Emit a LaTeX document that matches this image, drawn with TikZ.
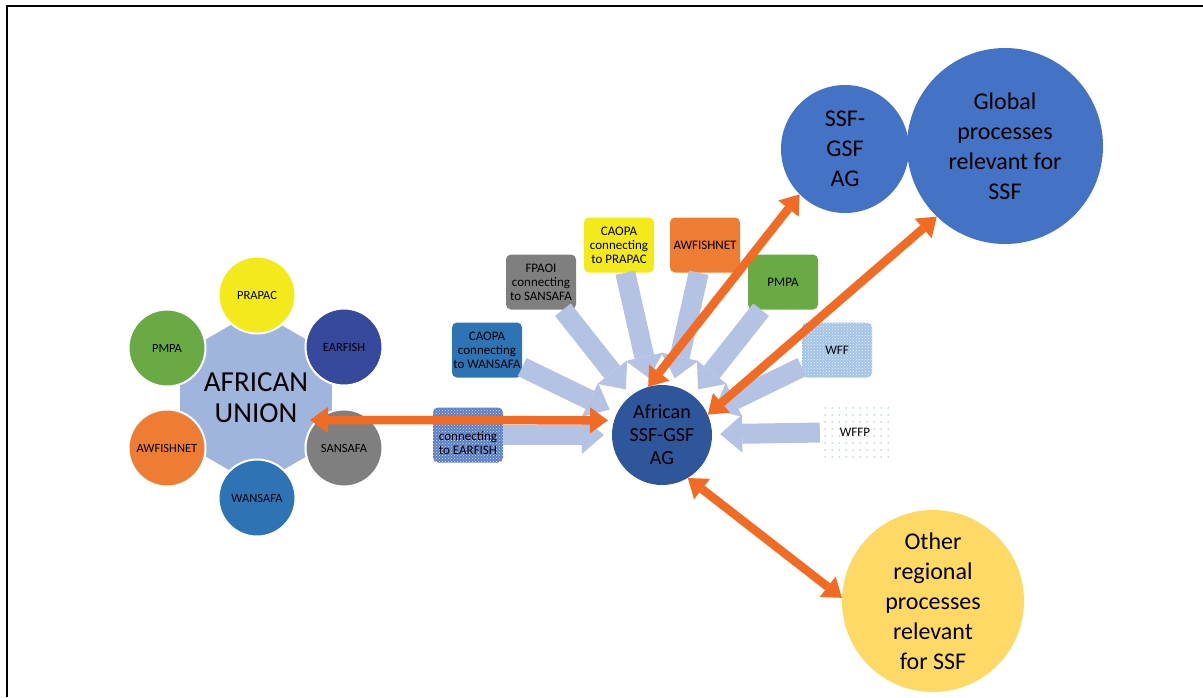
\documentclass[tikz,border=0pt]{standalone}
\usepackage{fontspec}
\setmainfont{Carlito}
\usetikzlibrary{arrows.meta,shapes.geometric,patterns,patterns.meta,calc}
\definecolor{UnionBlue}{HTML}{A0B5DE}
\definecolor{FeedBlue}{HTML}{B4C2E3}
\definecolor{LinkOrange}{HTML}{F26B24}
\definecolor{HubBlue}{HTML}{2F559B}
\definecolor{GlobalBlue}{HTML}{4472C4}
\definecolor{OtherGold}{HTML}{FFD966}
\definecolor{PrapacYellow}{HTML}{F4EA1B}
\definecolor{EarfishBlue}{HTML}{36499C}
\definecolor{PmpaGreen}{HTML}{6AAA45}
\definecolor{AwfOrange}{HTML}{EE7D33}
\definecolor{SansafaGray}{HTML}{7F7F7F}
\definecolor{WansafaBlue}{HTML}{2E74B5}
\definecolor{WffBlue}{HTML}{A3C4E6}
\definecolor{WffpDot}{HTML}{8DB8E2}
\definecolor{EarBoxBlue}{HTML}{5B7FC4}

\begin{document}
\begin{tikzpicture}[
    x=1pt, y=-1pt,
    member/.style={circle, draw=white, line width=2pt, fill=#1, minimum size=77pt,
        inner sep=0pt, text=black, font=\fontsize{12.5}{14}\selectfont},
    feeder/.style={rounded corners=5pt, fill=#1, minimum width=70pt, minimum height=55pt,
        inner sep=1pt, align=center, text=black, font=\fontsize{13}{14}\selectfont},
    hub/.style={circle, fill=#1, inner sep=0pt, align=center, text=black},
    feed/.style={draw=FeedBlue, line width=20pt,
        -{Triangle[length=22pt, width=38pt, line width=0pt]}, shorten >=8pt},
    link/.style={draw=LinkOrange, line width=8.5pt,
        {Triangle[length=18pt, width=26pt, line width=0pt]}-{Triangle[length=18pt, width=26pt, line width=0pt]}}
]
    \useasboundingbox (0,0) rectangle (1203,697);

    % Frame (top and left)
    \draw[line width=2.5pt] (7,697) -- (7,6) -- (1203,6);

    % African Union and its members
    \node[regular polygon, regular polygon sides=12, fill=UnionBlue, minimum size=157pt,
        inner sep=0pt, align=center, font=\fontsize{29}{31}\selectfont] (au) at (256,398)
        {AFRICAN\\UNION};
    \node[member=PrapacYellow] (prapac) at (257,295) {PRAPAC};
    \node[member=EarfishBlue] (earfish) at (344,347) {EARFISH};
    \node[member=SansafaGray] (sansafa) at (344,448) {SANSAFA};
    \node[member=WansafaBlue] (wansafa) at (257,498) {WANSAFA};
    \node[member=AwfOrange] (awfishnet) at (167,448) {AWFISHNET};
    \node[member=PmpaGreen] (pmpa) at (167,348) {PMPA};

    % Hub
    \node[hub=HubBlue, minimum size=100pt, font=\fontsize{20}{23}\selectfont] (agc) at (662,435)
        {African\\SSF-GSF\\AG};

    % Regional feeders
    \node[feeder=EarBoxBlue, preaction={fill=EarBoxBlue}, pattern=crosshatch dots,
        pattern color=white!75!EarBoxBlue] (bearfish) at (468,435) {};
    \node[align=center, font=\fontsize{13}{14}\selectfont] (tearfish) at ($(bearfish.center)+(0,8)$)
        {connecting\\to EARFISH};
    \node[feeder=WansafaBlue] (bwansafa) at (487,350) {CAOPA\\connecting\\to WANSAFA};
    \node[feeder=SansafaGray] (bsansafa) at (541,282) {FPAOI\\connecting\\to SANSAFA};
    \node[feeder=PrapacYellow] (bprapac) at (619,245) {CAOPA\\connecting\\to PRAPAC};
    \node[feeder=AwfOrange] (bawf) at (705,245) {AWFISHNET};
    \node[feeder=PmpaGreen] (bpmpa) at (783,282) {PMPA};
    \node[feeder=WffBlue, preaction={fill=WffBlue}, pattern=crosshatch dots,
        pattern color=white!75!WffBlue] (bwff) at (837,350) {WFF};
    \node[feeder=white, pattern={Dots[distance=6.5pt, radius=0.8pt]},
        pattern color=WffpDot] (bwffp) at (855,432) {WFFP};

    % Feeder arrows
    \draw[feed] (bearfish) -- (agc);
    \draw[feed] (bwansafa) -- (agc);
    \draw[feed] (bsansafa) -- (agc);
    \draw[feed] (bprapac) -- (agc);
    \draw[feed] (bawf) -- (agc);
    \draw[feed] (bpmpa) -- (agc);
    \draw[feed] (bwff) -- (agc);
    \draw[feed] (bwffp) -- (agc);

    % Wider processes
    \node[hub=GlobalBlue, minimum size=128pt, font=\fontsize{24}{30}\selectfont] (ssf) at (845,149)
        {SSF-\\GSF\\AG};
    \node[hub=GlobalBlue, minimum size=196pt, font=\fontsize{24}{30}\selectfont] (glob) at (1005,146)
        {Global\\processes\\relevant for\\SSF};
    \node[hub=OtherGold, minimum size=182pt, font=\fontsize{24}{30}\selectfont] (other) at (933,601)
        {Other\\regional\\processes\\relevant\\for SSF};

    % Two-way links
    \coordinate (autip) at (310,420);
    \draw[link, shorten >=6pt] (autip) -- (agc.163);
    \draw[link] (agc.106) -- (ssf.225);
    \draw[link] (agc.24) -- (glob.226);
    \draw[link] (agc.301) -- (other.178);
\end{tikzpicture}
\end{document}
